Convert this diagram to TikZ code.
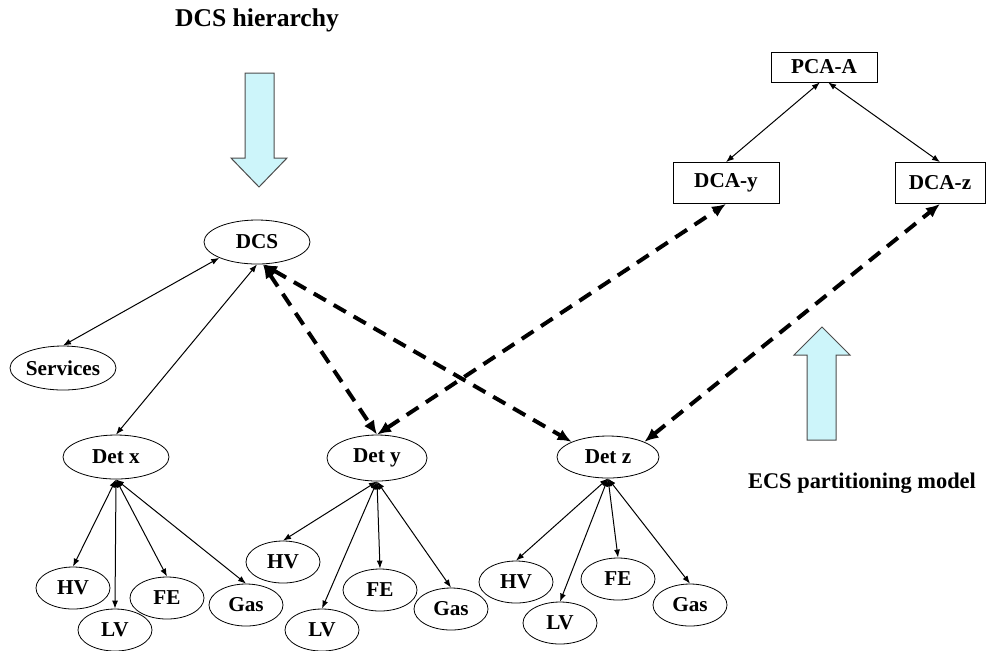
\documentclass[tikz,border=0pt]{standalone}
\usepackage{fontspec}
\setmainfont{Liberation Serif}
\usetikzlibrary{shapes.geometric,arrows.meta}
\definecolor{pale}{RGB}{205,245,250}

\begin{document}
\begin{tikzpicture}[x=0.5pt,y=-0.5pt,
  every node/.style={font=\fontsize{10.6}{12}\selectfont\bfseries},
  elem/.style={draw,ellipse,inner sep=0pt,minimum width=53pt,minimum height=22pt},
  leaf/.style={draw,ellipse,inner sep=0pt,minimum width=37pt,minimum height=21pt},
  agent/.style={draw,rectangle,inner sep=0pt,minimum height=20.5pt},
  link/.style={{Latex[length=4pt,width=3pt]}-{Latex[length=4pt,width=3pt]},line width=0.5pt},
  dlink/.style={{Latex[length=7pt,width=6pt]}-{Latex[length=7pt,width=6pt]},line width=2pt,dash pattern=on 7pt off 4.5pt},
  bigarrow/.style={fill=pale,draw=black!70,line width=0.5pt},
  title/.style={font=\fontsize{12.8}{15}\selectfont\bfseries}]
\useasboundingbox (0,0) rectangle (988,650);

% Titel und Pfeile
\node[title] (dcstitle) at (257,20) {DCS hierarchy};
\node[title,font=\fontsize{11.2}{14}\selectfont\bfseries] (ecstitle) at (862,483) {ECS partitioning model};
\draw[bigarrow] (245,73) -- (274,73) -- (274,158) -- (287,158) -- (259,187) -- (231,158) -- (245,158) -- cycle;
\draw[bigarrow] (807,440) -- (836,440) -- (836,355) -- (850,355) -- (822,327) -- (794,355) -- (807,355) -- cycle;

% ECS
\node[agent,minimum width=53pt,minimum height=15pt] (pca) at (824,67) {PCA-A};
\node[agent,minimum width=53pt] (dcay) at (726,183) {DCA-y};
\node[agent,minimum width=45pt] (dcaz) at (940,183) {DCA-z};

% DCS
\node[elem] (dcs) at (257,242) {DCS};
\node[elem] (serv) at (63,368) {Services};
\node[elem] (detx) at (116,457) {Det x};
\node[elem,minimum width=50pt,minimum height=23pt] (dety) at (377,458) {Det y};
\node[elem,minimum width=51pt,minimum height=21pt] (detz) at (608,457) {Det z};

% Subdetektoren
\node[leaf] (hvx) at (73,588) {HV};
\node[leaf] (lvx) at (115,630) {LV};
\node[leaf] (fex) at (167,598) {FE};
\node[leaf] (gasx) at (246,605) {Gas};
\node[leaf] (hvy) at (283,562) {HV};
\node[leaf] (lvy) at (322,630) {LV};
\node[leaf] (fey) at (380,590) {FE};
\node[leaf] (gasy) at (451,609) {Gas};
\node[leaf] (hvz) at (516,582) {HV};
\node[leaf] (lvz) at (560,623) {LV};
\node[leaf] (fez) at (618,579) {FE};
\node[leaf] (gasz) at (690,605) {Gas};

% Verbindungen
\draw[link] (pca.-105) -- (dcay.north);
\draw[link] (pca.-75) -- (dcaz.north);
\draw[link] (dcs.south west) -- (serv.north);
\draw[link] (dcs.south) -- (detx.north);
\draw[link] (detx.south) -- (hvx.north);
\draw[link] (detx.south) -- (lvx.north);
\draw[link] (detx.south) -- (fex.north);
\draw[link] (detx.south) -- (gasx.north);
\draw[link] (dety.south) -- (hvy.north);
\draw[link] (dety.south) -- (lvy.north);
\draw[link] (dety.south) -- (fey.north);
\draw[link] (dety.south) -- (gasy.north);
\draw[link] (detz.south) -- (hvz.north);
\draw[link] (detz.south) -- (lvz.north);
\draw[link] (detz.south) -- (fez.north);
\draw[link] (detz.south) -- (gasz.north);

% Partitionierung
\draw[dlink] (dcs.-75) -- (dety.north);
\draw[dlink] (dcs.-75) -- (detz.north west);
\draw[dlink] (dety.north) -- (dcay.south);
\draw[dlink] (detz.north east) -- (dcaz.south);
\end{tikzpicture}
\end{document}
